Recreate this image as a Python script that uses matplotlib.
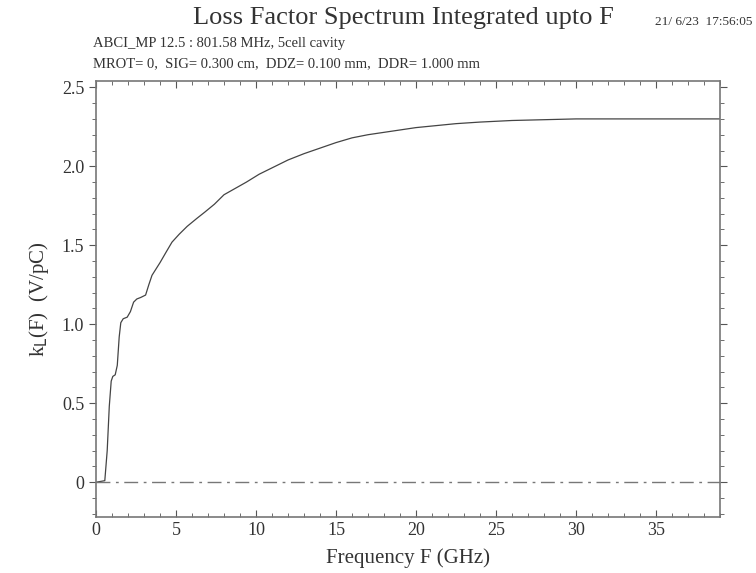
import matplotlib
matplotlib.use("Agg")
import matplotlib.pyplot as plt
from matplotlib.ticker import MultipleLocator

# frequency (GHz) and integrated loss factor (V/pC)
freq = [0, 0.55, 0.7, 0.83, 0.95, 1.05, 1.2, 1.33, 1.45, 1.55, 1.7, 1.95,
        2.15, 2.35, 2.55, 2.8, 3.1, 3.3, 3.5, 3.75, 4.0, 4.4, 4.75, 5.2,
        5.7, 6.3, 6.8, 7.4, 8.0, 8.7, 9.4, 10.2, 11.0, 12.0, 13.0, 14.0,
        15.0, 16.0, 17.0, 18.0, 19.0, 20.0, 21.0, 22.5, 24.0, 26.0, 28.0,
        30.0, 33.0, 36.0, 39.0]
kl = [0, 0.01, 0.2, 0.48, 0.64, 0.67, 0.68, 0.74, 0.92, 1.01, 1.035, 1.045,
      1.08, 1.14, 1.16, 1.17, 1.185, 1.25, 1.31, 1.35, 1.39, 1.46, 1.52, 1.57,
      1.62, 1.67, 1.71, 1.76, 1.82, 1.86, 1.90, 1.95, 1.99, 2.04, 2.08, 2.115,
      2.15, 2.18, 2.20, 2.215, 2.23, 2.245, 2.255, 2.27, 2.28, 2.29, 2.295,
      2.30, 2.30, 2.30, 2.30]

title = "Loss Factor Spectrum Integrated upto F"
stamp = "21/ 6/23  17:56:05"
info1 = "ABCI_MP 12.5 : 801.58 MHz, 5cell cavity"
info2 = "MROT= 0,  SIG= 0.300 cm,  DDZ= 0.100 mm,  DDR= 1.000 mm"

plt.rcParams["font.family"] = ["Liberation Serif", "DejaVu Serif"]

fig = plt.figure(figsize=(7.56, 5.73), dpi=100)
ax = fig.add_axes([96 / 756, 1 - 517 / 573, 624 / 756, 436 / 573])

ax.plot(freq, kl, color="#444444", lw=0.9)
ax.axhline(0, color="#777777", lw=1.0, dashes=(10, 4, 2, 4))

ax.set_xlim(0, 39)
ax.set_ylim(-0.22, 2.54)
ax.xaxis.set_major_locator(MultipleLocator(5))
ax.xaxis.set_minor_locator(MultipleLocator(1))
ax.yaxis.set_major_locator(MultipleLocator(0.5))
ax.yaxis.set_minor_locator(MultipleLocator(0.1))
ax.set_yticks([0, 0.5, 1.0, 1.5, 2.0, 2.5])
ax.set_yticklabels(["0", "0.5", "1.0", "1.5", "2.0", "2.5"])

ax.tick_params(axis="x", which="both", direction="in", top=True,
               colors="#555555", labelcolor="#333333", labelsize=13)
ax.tick_params(axis="x", which="major", length=5)
ax.tick_params(axis="x", which="minor", length=3)
ax.tick_params(axis="y", which="both", direction="out", right=True,
               colors="#555555", labelcolor="#333333", labelsize=13)
ax.tick_params(axis="y", which="major", length=5)
ax.tick_params(axis="y", which="minor", length=3)
for s in ax.spines.values():
    s.set_color("#777777")
    s.set_linewidth(1.2)

ax.set_xlabel("Frequency F (GHz)", fontsize=15, color="#333333", labelpad=7)
ax.set_ylabel("k$_\\mathrm{L}$(F)  (V/pC)", fontsize=15, color="#333333",
              labelpad=8)

fig.text(0.533, 0.968, title, ha="center", va="center", fontsize=19,
         color="#333333")
fig.text(0.995, 0.962, stamp, ha="right", va="center", fontsize=9.5,
         color="#333333")
fig.text(93 / 756, 1 - 44 / 573, info1, ha="left", va="center", fontsize=10.5,
         color="#333333")
fig.text(93 / 756, 1 - 64 / 573, info2, ha="left", va="center", fontsize=10.5,
         color="#333333")

fig.savefig("out.png", dpi=100)
